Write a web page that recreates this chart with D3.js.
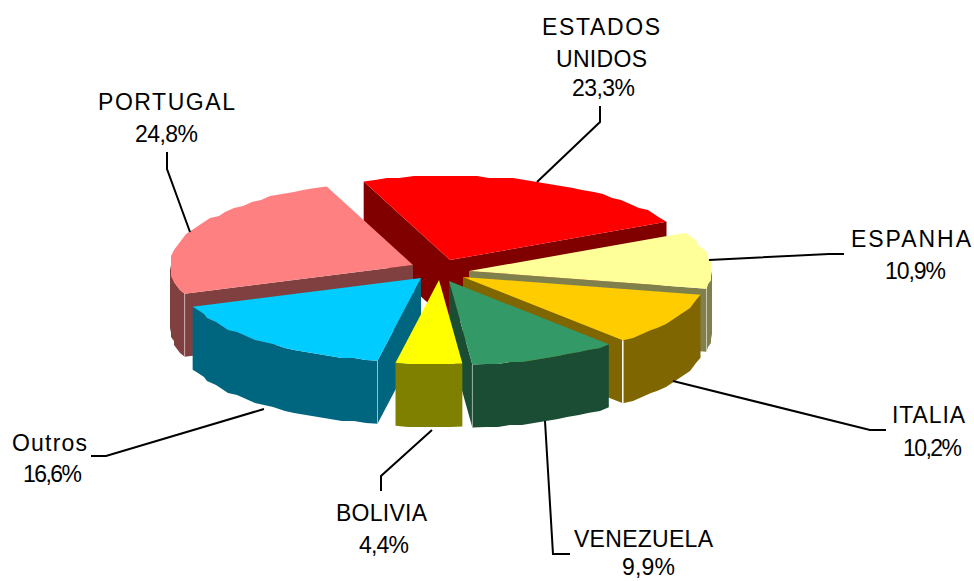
<!DOCTYPE html>
<html>
<head>
<meta charset="utf-8">
<script src="https://cdn.jsdelivr.net/npm/d3@7"></script>
<style>
  html, body { margin: 0; background: #fff; }
  svg { display: block; }
  text { font-family: "Liberation Sans", Arial, sans-serif; font-size: 23px; fill: #000; }
</style>
</head>
<body>
<svg id="chart"></svg>
<script>
// values, clockwise from the red slice
const countries = ['ESTADOS UNIDOS', 'ESPANHA', 'ITALIA', 'VENEZUELA', 'BOLIVIA', 'Outros', 'PORTUGAL'];
const shares = [23.3, 10.9, 10.2, 9.9, 4.4, 16.6, 24.8];
const shareLabels = ['23,3%', '10,9%', '10,2%', '9,9%', '4,4%', '16,6%', '24,8%'];
const topColors = ['#ff0000', '#ffff99', '#ffcc00', '#339966', '#ffff00', '#00ccff', '#ff8080'];
const sideColors = ['#800000', '#80804d', '#806600', '#1a4d33', '#808000', '#006680', '#804040'];

// layout: where each exploded slice has its tip
const tips = [[450, 260], [469, 271], [463, 277], [449, 281], [439, 280], [421, 278], [413, 265]];
// painter's order, back to front
const drawOrder = [0, 6, 1, 2, 5, 3, 4];
// text lines: [text, left, width, baseline]
const textLines = [
  ['ESTADOS', 542, 118, 35], ['UNIDOS', 556, 91, 67], [shareLabels[0], 572, 63, 96],
  ['ESPANHA', 851, 120, 247], [shareLabels[1], 885, 61, 279],
  ['ITALIA', 892, 73, 423], [shareLabels[2], 903, 59, 456],
  ['VENEZUELA', 574, 139, 547], [shareLabels[3], 622, 53, 575],
  ['BOLIVIA', 336, 91, 521], [shareLabels[4], 359, 50, 553],
  ['Outros', 12, 75, 451], [shareLabels[5], 23, 59, 482],
  ['PORTUGAL', 98, 137, 110], [shareLabels[6], 135, 63, 142]
];
const leaders = [
  [[600, 106], [600, 122], [537, 182]],
  [[844, 254], [829, 254], [709, 260]],
  [[886, 430], [870, 430], [673, 381]],
  [[570, 554], [553, 554], [545, 421]],
  [[381, 491], [381, 476], [432, 430]],
  [[91, 456], [106, 456], [264, 409]],
  [[167, 152], [167, 169], [190, 232]]
];

const width = 974, height = 581;
const radiusX = 243, radiusY = 84, depth = 63;
const startAngle = -20.8 * Math.PI / 180;

const svg = d3.select('#chart').attr('width', width).attr('height', height);

const pie = d3.pie().sort(null)
  .startAngle(startAngle)
  .endAngle(startAngle + 2 * Math.PI);
const arcs = pie(shares);

const topColor = d3.scaleOrdinal().domain(countries).range(topColors);
const sideColor = d3.scaleOrdinal().domain(countries).range(sideColors);
const line = d3.line();
const closed = pts => line(pts) + 'Z';

// point on the rim of slice i
function rimPoint(i, a) {
  return [tips[i][0] + radiusX * Math.sin(a), tips[i][1] - radiusY * Math.cos(a)];
}

// the original was drawn with a coarse polygon, so the rim gets snapped to a grid
function rimPath(i, a0, a1) {
  const pts = [rimPoint(i, a0)];
  const n = Math.max(1, Math.round((a1 - a0) / (3 * Math.PI / 180)));
  for (let k = 1; k < n; k++) {
    const p = rimPoint(i, a0 + (a1 - a0) * k / n);
    pts.push([Math.round(p[0] / 3) * 3, Math.round(p[1] / 2) * 2]);
  }
  pts.push(rimPoint(i, a1));
  return pts;
}

const down = p => [p[0], p[1] + depth];

const slices = svg.append('g').selectAll('g')
  .data(drawOrder)
  .join('g')
  .each(function (i) {
    const g = d3.select(this);
    const d = arcs[i];
    const fillSide = sideColor(countries[i]);
    const tip = tips[i];

    // radial walls, only the ones facing the viewer
    [d.startAngle, d.endAngle].forEach((a, w) => {
      const visible = w === 0 ? Math.sin(a) < 0 : Math.sin(a) > 0;
      if (!visible) return;
      const outer = rimPoint(i, a);
      g.append('path')
        .attr('d', closed([tip, outer, down(outer), down(tip)]))
        .attr('fill', fillSide);
    });

    // outer wall, front half of the ellipse only
    const a0 = Math.max(d.startAngle, Math.PI / 2);
    const a1 = Math.min(d.endAngle, 3 * Math.PI / 2);
    if (a1 > a0) {
      const rim = rimPath(i, a0, a1);
      g.append('path')
        .attr('d', closed(rim.concat(rim.map(down).reverse())))
        .attr('fill', fillSide);
    }

    // light corner edges between the walls
    [d.startAngle, d.endAngle].forEach((a, w) => {
      const visible = w === 0 ? Math.sin(a) < 0 : Math.sin(a) > 0;
      if (!visible || Math.cos(a) > 0) return;
      const outer = rimPoint(i, a);
      g.append('path')
        .attr('d', line([outer, down(outer)]))
        .attr('stroke', i === 2 ? '#fff' : 'rgba(255,255,255,0.45)')
        .attr('stroke-width', i === 2 ? 1.5 : 1)
        .attr('fill', 'none');
    });

    // top face
    g.append('path')
      .attr('d', closed([tip].concat(rimPath(i, d.startAngle, d.endAngle))))
      .attr('fill', topColor(countries[i]));
  });

svg.append('g').selectAll('path')
  .data(leaders)
  .join('path')
  .attr('d', line)
  .attr('fill', 'none')
  .attr('stroke', '#000')
  .attr('stroke-width', 2);

svg.append('g').selectAll('text')
  .data(textLines)
  .join('text')
  .attr('x', d => d[1])
  .attr('y', d => d[3])
  .attr('textLength', d => d[2])
  .attr('lengthAdjust', 'spacing')
  .text(d => d[0]);
</script>
</body>
</html>
